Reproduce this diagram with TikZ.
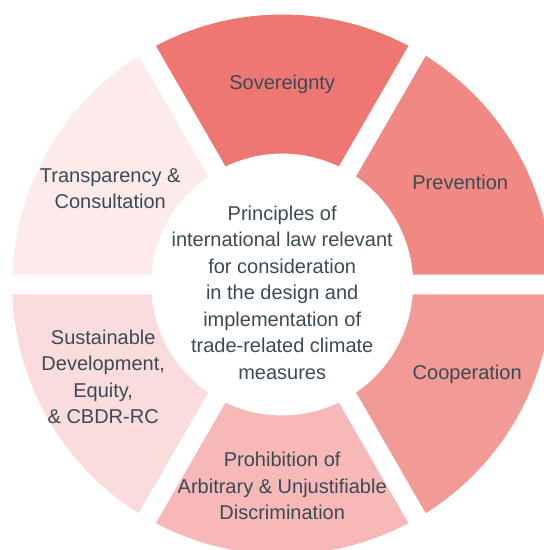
\documentclass[tikz,border=0pt]{standalone}
\usepackage{fontspec}
\setmainfont{Liberation Sans}
\definecolor{txt}{HTML}{3B4A55}
\definecolor{sovcol}{HTML}{EE7771}
\definecolor{prevcol}{HTML}{F08983}
\definecolor{coopcol}{HTML}{F29A95}
\definecolor{prohibcol}{HTML}{F7B9B7}
\definecolor{sustcol}{HTML}{FBDCDC}
\definecolor{transpcol}{HTML}{FDEBEB}

\begin{document}
\begin{tikzpicture}[x=1pt,y=1pt,
  principle/.style={text=txt,align=center,font=\fontsize{20}{26.5}\selectfont}]
\useasboundingbox (-282.2,-265.5) rectangle (261.8,284.5);
\clip (-282.2,-265.5) rectangle (261.8,284.5);
% ring segments, 20pt gaps between them
\foreach \a/\col in {60/sovcol,0/prevcol,-60/coopcol,-120/prohibcol,180/sustcol,120/transpcol}
  \fill[\col] ({\a+asin(10/270)}:270)
    arc[start angle={\a+asin(10/270)},end angle={\a+60-asin(10/270)},radius=270]
    -- ({\a+60-asin(10/131)}:131)
    arc[start angle={\a+60-asin(10/131)},end angle={\a+asin(10/131)},radius=131]
    -- cycle;
\node[principle] (sov) at (0,200) {Sovereignty};
\node[principle] (prev) at (178,102) {Prevention};
\node[principle] (coop) at (185,-90) {Cooperation};
\node[principle] (prohib) at (0,-201.5) {Prohibition of\\Arbitrary \& Unjustifiable\\Discrimination};
\node[principle] (sust) at (-179,-92.5) {Sustainable\\Development,\\Equity,\\\& CBDR-RC};
\node[principle] (transp) at (-172,96) {Transparency \&\\Consultation};
\node[principle] (centre) at (0,-8) {Principles of\\international law relevant\\for consideration\\in the design and\\implementation of\\trade-related climate\\measures};
\end{tikzpicture}
\end{document}
